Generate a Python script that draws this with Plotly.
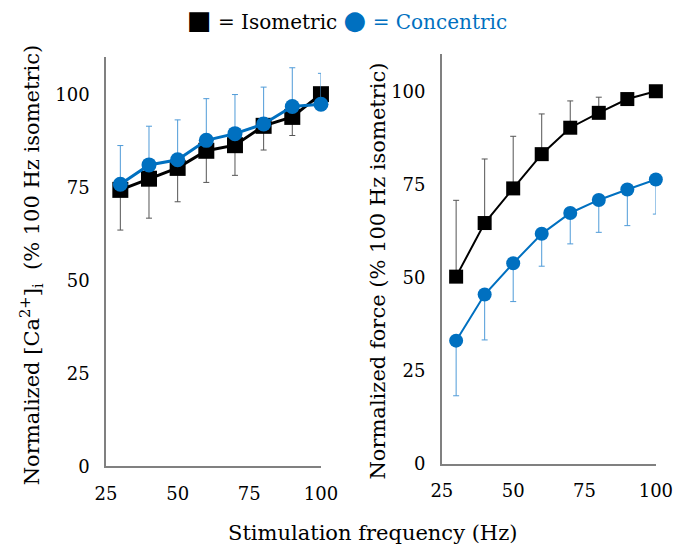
import plotly.graph_objects as go

# Stimulation frequencies (Hz)
freq = [30, 40, 50, 60, 70, 80, 90, 100]

# Normalized [Ca2+]i (% of 100 Hz isometric)
ca_iso = [74.3, 77.3, 80.2, 84.8, 86.3, 91.5, 93.9, 100.0]
ca_iso_sd = [10.8, 10.6, 9.1, 8.5, 8.1, 6.5, 5.0, 0.0]
ca_con = [75.8, 81.0, 82.4, 87.6, 89.4, 92.0, 96.7, 97.3]
ca_con_sd = [10.4, 10.4, 10.7, 11.2, 10.5, 9.9, 10.4, 8.3]

# Normalized force (% of 100 Hz isometric)
force_iso = [50.2, 64.6, 73.9, 83.1, 90.2, 94.2, 97.9, 100.0]
force_iso_sd = [20.5, 17.2, 14.0, 10.8, 7.2, 4.2, 0.0, 0.0]
force_con = [33.0, 45.4, 53.8, 61.7, 67.3, 70.8, 73.6, 76.3]
force_con_sd = [14.8, 12.2, 10.3, 8.7, 8.3, 8.7, 9.7, 9.3]

y_ticks = [0, 25, 50, 75, 100]
x_ticks = [25, 50, 75, 100]

BLUE = "#0070C0"
BLUE_ERR = "#4F9BD8"
BLACK = "#000000"
GRAY_ERR = "#555555"
FONT = "DejaVu Serif"

W, H = 693, 557


def err(sd, up, color):
    zeros = [0] * len(sd)
    return dict(type="data", symmetric=False,
                array=sd if up else zeros,
                arrayminus=zeros if up else sd,
                thickness=1, width=3, color=color)


fig = go.Figure()

# Left panel: calcium
fig.add_trace(go.Scatter(x=freq, y=ca_iso, mode="lines+markers", xaxis="x", yaxis="y",
                         line=dict(color=BLACK, width=3),
                         marker=dict(symbol="square", size=16, color=BLACK),
                         error_y=err(ca_iso_sd, False, GRAY_ERR),
                         cliponaxis=False, showlegend=False))
fig.add_trace(go.Scatter(x=freq, y=ca_con, mode="lines+markers", xaxis="x", yaxis="y",
                         line=dict(color=BLUE, width=3),
                         marker=dict(symbol="circle", size=15, color=BLUE),
                         error_y=err(ca_con_sd, True, BLUE_ERR),
                         cliponaxis=False, showlegend=False))

# Right panel: force
fig.add_trace(go.Scatter(x=freq, y=force_iso, mode="lines+markers", xaxis="x2", yaxis="y2",
                         line=dict(color=BLACK, width=2),
                         marker=dict(symbol="square", size=14, color=BLACK),
                         error_y=err(force_iso_sd, True, GRAY_ERR),
                         cliponaxis=False, showlegend=False))
fig.add_trace(go.Scatter(x=freq, y=force_con, mode="lines+markers", xaxis="x2", yaxis="y2",
                         line=dict(color=BLUE, width=2),
                         marker=dict(symbol="circle", size=14, color=BLUE),
                         error_y=err(force_con_sd, False, BLUE_ERR),
                         cliponaxis=False, showlegend=False))

axis_common = dict(showgrid=False, zeroline=False, showline=True,
                   linecolor="#808080", linewidth=1.5, ticks="",
                   tickfont=dict(family=FONT, size=18, color="black"))

fig.update_layout(
    width=W, height=H,
    margin=dict(l=0, r=0, t=0, b=0),
    paper_bgcolor="white", plot_bgcolor="white",
    font=dict(family=FONT, size=21, color="black"),
    xaxis=dict(domain=[99 / W, 323 / W], range=[25, 100], tickvals=x_ticks,
               anchor="y", ticklabelstandoff=10, **axis_common),
    yaxis=dict(domain=[(H - 475) / H, (H - 58) / H], range=[0, 110], tickvals=y_ticks,
               anchor="x", ticklabelstandoff=11, **axis_common),
    xaxis2=dict(domain=[449 / W, 672 / W], range=[25, 100], tickvals=x_ticks,
                anchor="y2", ticklabelstandoff=10, **axis_common),
    yaxis2=dict(domain=[(H - 472) / H, (H - 55) / H], range=[0, 110], tickvals=y_ticks,
                anchor="x2", ticklabelstandoff=11, **axis_common),
)

annotations = [
    # Legend key
    dict(x=350 / W, y=1 - 20 / H, xref="paper", yref="paper", showarrow=False,
         xanchor="center", yanchor="middle",
         text='<span style="font-size:26px">■</span> = Isometric '
              '<span style="color:%s"><span style="font-size:26px">●</span> = Concentric</span>' % BLUE,
         font=dict(family=FONT, size=20, color="black")),
    # Shared x title
    dict(x=377 / W, y=1 - 543 / H, xref="paper", yref="paper", showarrow=False,
         xanchor="center", yanchor="middle",
         text="Stimulation frequency (Hz)",
         font=dict(family=FONT, size=21, color="black")),
    # Left y title
    dict(x=21 / W, y=1 - 270 / H, xref="paper", yref="paper", showarrow=False,
         xanchor="center", yanchor="middle", textangle=-90,
         text="Normalized [Ca<sup>2+</sup>]<sub>i</sub>  (% 100 Hz isometric)",
         font=dict(family=FONT, size=21, color="black")),
    # Right y title
    dict(x=382 / W, y=1 - 276 / H, xref="paper", yref="paper", showarrow=False,
         xanchor="center", yanchor="middle", textangle=-90,
         text="Normalized force (% 100 Hz isometric)",
         font=dict(family=FONT, size=21, color="black")),
]
fig.update_layout(annotations=annotations)

fig.write_html("out.html")
